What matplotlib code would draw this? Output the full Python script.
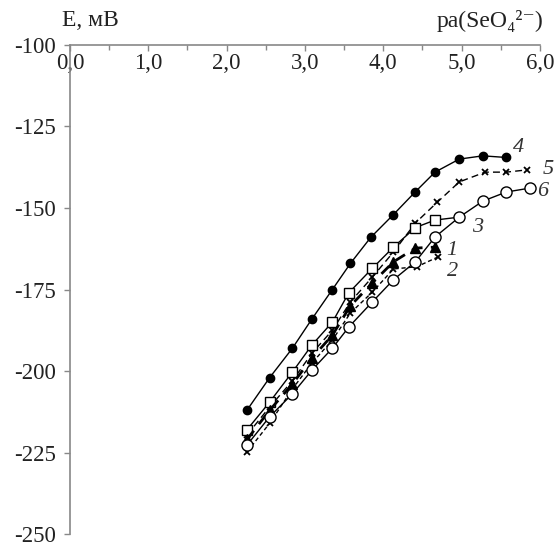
import matplotlib
matplotlib.use("Agg")
import matplotlib.pyplot as plt
from matplotlib.ticker import MultipleLocator, FuncFormatter

# ---- data ----
x4 = [2.26, 2.55, 2.84, 3.09, 3.35, 3.58, 3.84, 4.13, 4.41, 4.66, 4.97, 5.27, 5.57]
y4 = [-212, -202, -193, -184, -175, -167, -159, -152, -145, -139, -135, -134, -134.5]

x5 = [2.26, 2.55, 2.84, 3.09, 3.35, 3.58, 3.86, 4.13, 4.41, 4.69, 4.97, 5.30, 5.57, 5.84]
y5 = [-219.6, -211, -203, -194.5, -187.5, -178.8, -171.2, -163.5, -154.6, -148.2, -142, -139, -139, -138.3]

x3 = [2.26, 2.55, 2.84, 3.09, 3.35, 3.56, 3.86, 4.13, 4.41, 4.66, 4.97]
y3 = [-218, -209.5, -200.3, -192, -185, -176, -168.5, -162, -156, -153.7, -152.8]

x1 = [2.26, 2.55, 2.84, 3.09, 3.35, 3.58, 3.86, 4.13, 4.41, 4.66]
y1 = [-221, -212, -204, -196, -189, -180, -173, -166.5, -162.3, -162]

x2 = [2.26, 2.55, 2.84, 3.09, 3.35, 3.58, 3.86, 4.13, 4.43, 4.70]
y2 = [-224.8, -216, -205.5, -197.5, -190.5, -182.2, -175.8, -168.7, -168, -165]

x6 = [2.26, 2.55, 2.84, 3.09, 3.35, 3.56, 3.86, 4.13, 4.41, 4.66, 4.97, 5.27, 5.57, 5.87]
y6 = [-222.7, -214, -207, -199.7, -193, -186.5, -178.8, -172, -166.5, -158.9, -152.8, -147.9, -145.1, -143.9]

curve_labels = ["1", "2", "3", "4", "5", "6"]
label_x = [4.88, 4.88, 5.20, 5.72, 6.10, 6.04]
label_y = [-162.9, -169.6, -156.0, -131.3, -138.3, -145.0]

xticks = [0, 1, 2, 3, 4, 5, 6]
yticks = [-100, -125, -150, -175, -200, -225, -250]

serif = ["Liberation Serif", "DejaVu Serif"]
plt.rcParams["font.family"] = serif

fig = plt.figure(figsize=(5.55, 5.48), dpi=100)
ax = fig.add_axes([0.1261, 0.0255, 0.8468, 0.8924])

ax.plot(x4, y4, color="black", lw=1.0, marker="o", ms=6, mfc="black", mec="black")
ax.plot(x5, y5, color="black", lw=1.0, ls=(0, (5, 3)), marker="x", ms=5, mew=1.3)
ax.plot(x3, y3, color="black", lw=1.0, marker="s", ms=7, mfc="white", mec="black",
        markevery=slice(0, len(x3) - 1))
ax.plot(x1, y1, color="black", lw=2.0, ls=(0, (4, 3)), marker="^", ms=7, mfc="black", mec="black")
ax.plot(x2, y2, color="black", lw=1.0, ls=(0, (3, 2)), marker="x", ms=5, mew=1.3)
ax.plot(x6, y6, color="black", lw=1.0, marker="o", ms=8, mfc="white", mec="black")

for t, lx, ly in zip(curve_labels, label_x, label_y):
    ax.text(lx, ly, t, fontsize=16, style="italic", ha="center", va="center", color="#333333")

ax.set_xlim(0, 6)
ax.set_ylim(-250, -100)
ax.set_xticks(xticks)
ax.xaxis.set_minor_locator(MultipleLocator(0.5))
ax.set_yticks(yticks)
ax.xaxis.set_major_formatter(FuncFormatter(lambda v, p: f"{v:.1f}".replace(".", ",")))
ax.yaxis.set_major_formatter(FuncFormatter(lambda v, p: f"{int(v)}"))

for s in ["right", "top"]:
    ax.spines[s].set_visible(False)
ax.spines["left"].set_color("#888888")
ax.spines["left"].set_linewidth(1.2)
ax.spines["bottom"].set_position(("data", -100))
ax.spines["bottom"].set_color("#888888")
ax.spines["bottom"].set_linewidth(1.2)

ax.tick_params(axis="x", which="major", direction="out", length=4, width=1, color="#888888",
               labelsize=16.5, pad=2, labelcolor="#222222")
ax.tick_params(axis="x", which="minor", direction="out", length=3.5, width=1, color="#888888")
ax.tick_params(axis="y", direction="out", length=4, width=1, color="#888888",
               labelsize=16.5, pad=6, labelcolor="#222222")
ax.patch.set_visible(False)

fig.text(0.112, 0.962, "E, мВ", fontsize=17, ha="left", va="center", color="#222222")
fig.text(0.979, 0.962, "pa(SeO₄²⁻)", fontsize=17, ha="right", va="center", color="#222222")

fig.savefig("out.png", dpi=100, facecolor="white")
